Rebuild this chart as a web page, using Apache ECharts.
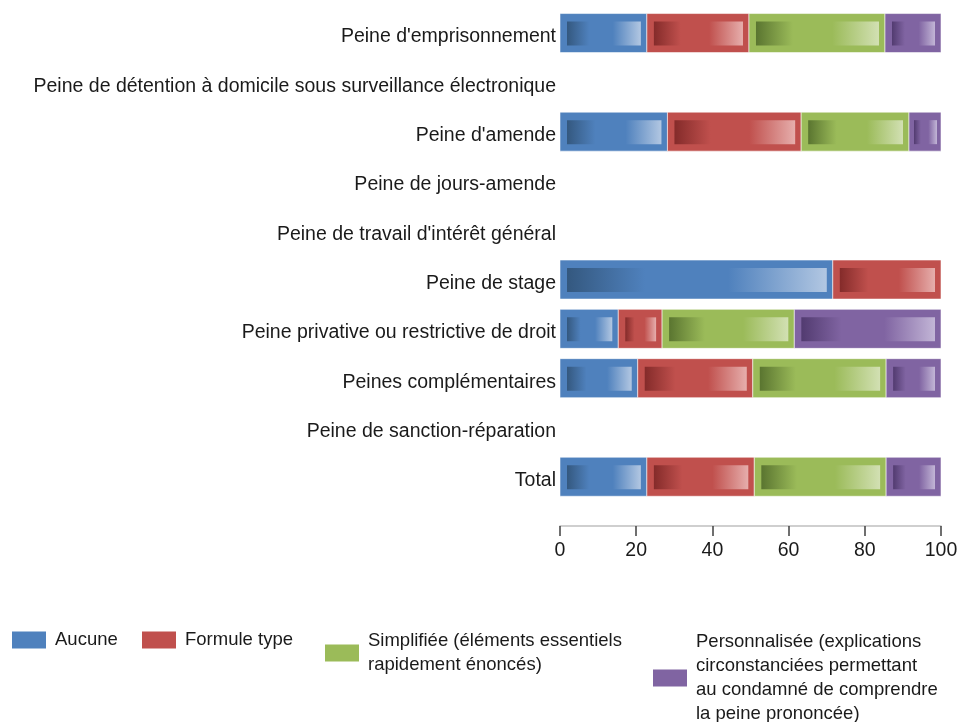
<!DOCTYPE html>
<html>
<head>
<meta charset="utf-8">
<script src="https://cdn.jsdelivr.net/npm/echarts@6/dist/echarts.min.js"></script>
<style>
html,body{margin:0;padding:0;background:#fff;}
#chart{width:962px;height:722px;}
</style>
</head>
<body>
<div id="chart"></div>
<script>
const categories = [
  "Peine d'emprisonnement",
  "Peine de détention à domicile sous surveillance électronique",
  "Peine d'amende",
  "Peine de jours-amende",
  "Peine de travail d'intérêt général",
  "Peine de stage",
  "Peine privative ou restrictive de droit",
  "Peines complémentaires",
  "Peine de sanction-réparation",
  "Total"
];
const seriesNames = [
  "Aucune",
  "Formule type",
  "Simplifiée (éléments essentiels\nrapidement énoncés)",
  "Personnalisée (explications\ncirconstanciées permettant\nau condamné de comprendre\nla peine prononcée)"
];
const aucune       = [22.8, null, 28.2, null, null, 71.6, 15.3, 20.4, null, 22.8];
const formuleType  = [26.8, null, 35.1, null, null, 28.4, 11.5, 30.2, null, 28.2];
const simplifiee   = [35.7, null, 28.3, null, null, 0,    34.7, 35.0, null, 34.6];
const personnalisee= [14.7, null, 8.4,  null, null, 0,    38.5, 14.4, null, 14.4];
const xTicks = [0, 20, 40, 60, 80, 100];

const palette = [
  {base:'#4f81bd', dark:'#34587f', light:'#b2c7e2'},
  {base:'#c0504d', dark:'#842b2a', light:'#e6aeac'},
  {base:'#9bbb59', dark:'#5a7530', light:'#d2e0b3'},
  {base:'#8064a2', dark:'#523b70', light:'#c2b5d6'}
];

const allValues = [aucune, formuleType, simplifiee, personnalisee];
// build stacked ranges
const cum = categories.map(() => 0);
const seriesData = allValues.map(arr => {
  const out = [];
  arr.forEach((v, i) => {
    if (v == null || v === 0) return;
    out.push([cum[i], cum[i] + v, i]);
    cum[i] += v;
  });
  return out;
});

function makeRender(pi) {
  return function (params, api) {
    const s = api.coord([api.value(0), api.value(2)]);
    const e = api.coord([api.value(1), api.value(2)]);
    const h = 39;
    const x = s[0], y = s[1] - h / 2, w = e[0] - s[0];
    const p = palette[pi];
    let il = 7, ir = 6;
    if (w < 40) { il = 5; ir = 4; }
    const it = 8, ib = 7;
    return {
      type: 'group',
      children: [
        {type: 'rect', shape: {x: x, y: y, width: w, height: h},
         style: {fill: p.base, stroke: 'rgba(255,255,255,0.55)', lineWidth: 1}},
        {type: 'rect', shape: {x: x + il, y: y + it, width: Math.max(0, w - il - ir), height: h - it - ib},
         style: {fill: new echarts.graphic.LinearGradient(0, 0, 1, 0, [
           {offset: 0, color: p.dark},
           {offset: 0.3, color: p.base},
           {offset: 0.62, color: p.base},
           {offset: 1, color: p.light}
         ])}}
      ]
    };
  };
}

const fontTxt = "'Liberation Sans', sans-serif";
const legendPos = [
  {left: 12, top: 628},
  {left: 142, top: 628},
  {left: 325, top: 629},
  {left: 653, top: 630}
];

const chart = echarts.init(document.getElementById('chart'), null, {renderer: 'canvas'});
chart.setOption({
  animation: false,
  color: palette.map(p => p.base),
  grid: {left: 560, right: 21, top: 8.4, height: 493},
  xAxis: {
    type: 'value', min: 0, max: 100, interval: 20, offset: 24.6,
    axisLine: {show: true, lineStyle: {color: '#c0c0c0', width: 1.5}},
    axisTick: {show: true, length: 10, lineStyle: {color: '#404040', width: 1.5}},
    splitLine: {show: false},
    axisLabel: {margin: 15, color: '#1a1a1a', fontSize: 19.5, fontFamily: fontTxt,
      formatter: v => xTicks.includes(v) ? String(v) : ''}
  },
  yAxis: {
    type: 'category', data: categories, inverse: true,
    axisLine: {show: false}, axisTick: {show: false},
    axisLabel: {margin: 4, color: '#1a1a1a', fontSize: 19.5, fontFamily: fontTxt,
      formatter: v => '{c|' + v + '}',
      rich: {c: {fontSize: 19.5, fontFamily: fontTxt, color: '#1a1a1a', padding: [8, 0, 0, 0]}}}
  },
  legend: seriesNames.map((n, i) => ({
    data: [n], left: legendPos[i].left, top: legendPos[i].top, orient: 'horizontal',
    padding: 0,
    itemWidth: 34, itemHeight: 17, selectedMode: false, icon: 'rect',
    textStyle: {fontSize: 18.5, lineHeight: 24, color: '#1a1a1a', fontFamily: fontTxt, padding: [0, 0, 0, 4]}
  })),
  series: seriesNames.map((n, i) => ({
    type: 'custom', name: n, renderItem: makeRender(i),
    encode: {x: [0, 1], y: 2},
    itemStyle: {color: palette[i].base},
    data: seriesData[i]
  }))
});
</script>
</body>
</html>
